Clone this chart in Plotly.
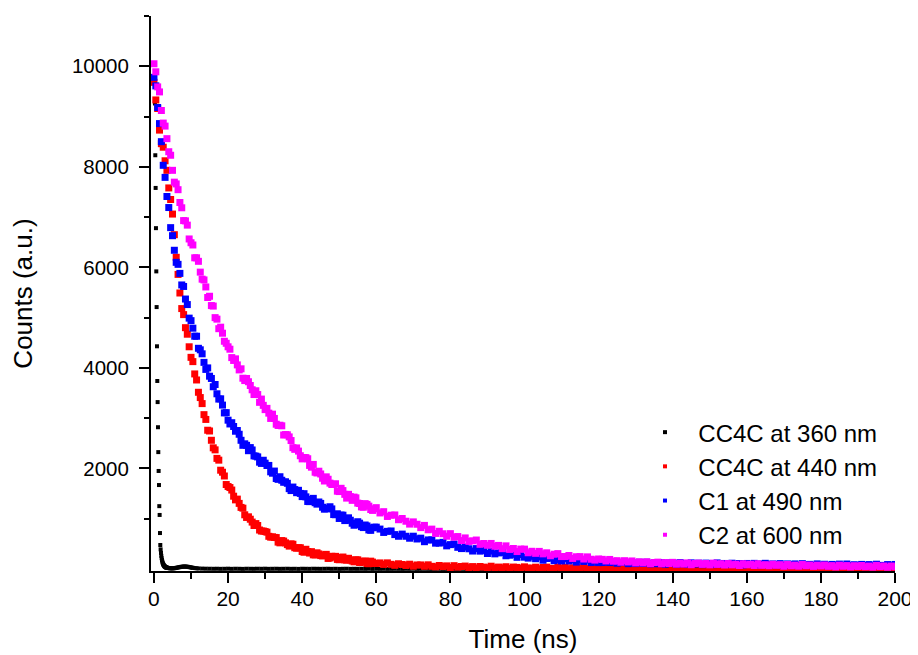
import numpy as np
import plotly.graph_objects as go

# ---- shared time grid (ns) for the three slow decays ----
time_ns = np.concatenate([np.arange(0, 60, 0.5), np.arange(60, 201, 1.0)])

# ---- C2 at 600 nm (magenta) ----
c2_600 = [
    # 0 - 19.5 ns
    10050, 9890, 9590, 9490, 9120, 8870, 8810, 8560, 8300, 8230,
    7930, 7695, 7660, 7545, 7290, 7185, 6930, 6925, 6840, 6565,
    6490, 6445, 6190, 6190, 6120, 5905, 5765, 5750, 5610, 5400,
    5425, 5240, 5230, 5000, 4970, 4780, 4810, 4690, 4530, 4490,
    # 20 - 60 ns
    4420, 4372, 4205, 4148, 4180, 4060, 3960, 3982, 3795, 3748,
    3790, 3725, 3650, 3565, 3470, 3545, 3470, 3315, 3380, 3255,
    3170, 3195, 3100, 2995, 3080, 2995, 2880, 2855, 2860, 2848,
    2665, 2673, 2670, 2628, 2555, 2413, 2380, 2408, 2345, 2253,
    2190, 2218, 2215, 2193, 2060, 2025, 2080, 1925, 1910, 1945,
    1890, 1805, 1750, 1833, 1785, 1708, 1680, 1683, 1695, 1548,
    1540, 1605, 1560, 1485, 1410, 1485, 1440, 1365, 1430, 1415,
    1310, 1303, 1235, 1228, 1300, 1285, 1250, 1183, 1165, 1198,
    1220,
    # 61 - 120 ns
    1115, 1140, 1045, 1070, 1075, 980, 1005, 950, 893, 937,
    890, 823, 867, 780, 793, 707, 750, 701, 652, 703,
    634, 645, 566, 618, 549, 560, 576, 491, 507, 472,
    508, 453, 469, 404, 460, 389, 408, 347, 396, 395,
    323, 352, 311, 350, 301, 322, 263, 294, 306, 247,
    248, 269, 210, 243, 246, 198, 241, 194, 177, 199,
    # 121 - 200 ns
    192, 160, 190, 155, 165, 135, 165, 140, 160, 120,
    143, 120, 143, 106, 129, 136, 104, 127, 109, 132,
    96, 119, 98, 121, 85, 109, 117, 91, 109, 83,
    117, 91, 105, 79, 108, 82, 96, 70, 104, 83,
    97, 70, 104, 73, 86, 65, 94, 73, 86, 55,
    89, 63, 77, 56, 90, 64, 78, 52, 76, 60,
    79, 53, 67, 41, 75, 54, 68, 42, 66, 50,
    69, 44, 58, 37, 72, 46, 60, 35, 59, 43,
]

# ---- C1 at 490 nm (blue) ----
c1_490 = [
    # 0 - 19.5 ns
    9780, 9610, 9180, 8860, 8500, 8030, 7790, 7410, 7190, 6790,
    6630, 6340, 6100, 6060, 5880, 5650, 5620, 5370, 5260, 4990,
    4940, 4790, 4630, 4630, 4390, 4360, 4280, 4110, 3970, 4000,
    3835, 3790, 3625, 3670, 3485, 3380, 3385, 3260, 3105, 3110,
    # 20 - 60 ns
    2960, 2885, 2910, 2835, 2740, 2755, 2680, 2560, 2460, 2490,
    2460, 2353, 2415, 2368, 2250, 2245, 2230, 2125, 2100, 2163,
    2105, 2058, 2060, 1933, 1905, 1948, 1800, 1783, 1835, 1765,
    1725, 1735, 1705, 1598, 1560, 1630, 1580, 1518, 1565, 1503,
    1440, 1498, 1435, 1343, 1340, 1383, 1405, 1318, 1290, 1333,
    1305, 1228, 1190, 1200, 1210, 1238, 1195, 1083, 1080, 1098,
    1005, 1073, 1070, 963, 975, 1018, 970, 910, 870, 885,
    940, 911, 842, 824, 875, 856, 777, 769, 820, 831,
    832,
    # 61 - 120 ns
    794, 727, 749, 756, 684, 651, 694, 651, 612, 652,
    597, 613, 543, 578, 579, 514, 515, 530, 460, 485,
    496, 431, 406, 436, 402, 357, 406, 355, 369, 308,
    357, 301, 320, 329, 263, 274, 291, 232, 288, 235,
    216, 252, 204, 240, 175, 210, 215, 165, 190, 160,
    205, 160, 180, 137, 178, 150, 177, 128, 155, 127,
    # 121 - 200 ns
    128, 150, 128, 149, 114, 132, 138, 106, 130, 108,
    134, 110, 135, 101, 118, 104, 125, 94, 121, 115,
    94, 127, 103, 96, 122, 98, 116, 87, 117, 104,
    88, 121, 92, 110, 89, 115, 95, 109, 81, 110,
    89, 112, 81, 100, 113, 82, 101, 83, 107, 73,
    101, 85, 101, 74, 106, 79, 92, 74, 101, 75,
    94, 66, 91, 78, 97, 70, 99, 71, 85, 65,
    91, 71, 88, 63, 95, 72, 66, 88, 67, 90,
]

# ---- CC4C at 440 nm (red) ----
cc4c_440 = [
    # 0 - 19.5 ns
    9680, 9330, 9160, 8730, 8460, 8390, 8120, 7930, 7580, 7350,
    7060, 6650, 6200, 5860, 5490, 5180, 5060, 4800, 4670, 4420,
    4210, 4125, 3880, 3760, 3515, 3410, 3290, 3070, 2975, 2760,
    2745, 2560, 2410, 2370, 2200, 2165, 1965, 1925, 1850, 1680,
    # 20 - 60 ns
    1640, 1620, 1570, 1448, 1375, 1390, 1305, 1225, 1210, 1078,
    1025, 1038, 990, 933, 865, 903, 865, 775, 755, 755,
    745, 733, 650, 633, 640, 628, 625, 535, 520, 565,
    555, 520, 485, 455, 500, 492, 423, 413, 423, 423,
    348, 333, 392, 347, 317, 345, 282, 280, 322, 300,
    267, 260, 282, 291, 210, 219, 253, 237, 251, 190,
    184, 229, 238, 182, 175, 213, 181, 160, 143, 183,
    182, 128, 134, 156, 157, 109, 105, 156, 137, 109,
    110,
    # 61 - 120 ns
    121, 91, 122, 93, 73, 104, 89, 70, 95, 56,
    80, 81, 54, 83, 53, 43, 70, 48, 62, 30,
    66, 37, 50, 58, 27, 48, 21, 50, 37, 26,
    55, 22, 38, 23, 45, 9, 38, 32, 11, 43,
    20, 14, 36, 5, 31, 37, 14, 9, 41, 15,
    30, 4, 24, 30, 8, 35, 5, 24, 11, 25,
    # 121 - 200 ns
    20, 7, 25, 11, 4, 21, 16, 1, 21, 8,
    25, 6, 15, 2, 21, 8, 18, 0, 21, 11,
    3, 23, 5, 14, 0, 18, 8, 21, 1, 15,
    -2, 17, 7, 19, 3, 11, -1, 18, 5, 21,
    0, 11, -3, 14, 18, 3, -1, 16, 5, 18,
    0, 11, -5, 16, 4, 13, -3, 18, 1, 8,
    -2, 16, 0, 10, -5, 14, 5, 18, -3, 10,
    -2, 15, 1, 8, -7, 14, -1, 16, 2, 12,
]

# ---- CC4C at 360 nm (black): fast decay, its own time points ----
black_time_early = [
    0.27, 0.36, 0.45, 0.54, 0.63, 0.72, 0.81, 0.90, 0.99, 1.08,
    1.17, 1.26, 1.35, 1.44, 1.53, 1.62, 1.71, 1.80, 1.89, 1.98,
    2.07, 2.16, 2.25, 2.34, 2.43, 2.52, 2.61, 2.70, 2.79, 2.88,
    2.97, 3.06, 3.15, 3.24, 3.33, 3.42, 3.51,
    3.7, 3.9, 4.1, 4.3, 4.5, 4.8, 5.1, 5.4, 5.7, 6.0,
    6.3, 6.6, 6.9, 7.2, 7.5, 7.8, 8.1, 8.4, 8.7, 9.0,
    9.3, 9.6, 9.9, 10.2, 10.5, 11.0, 11.5, 12.0, 13.0, 14.0, 15.0,
]
black_time = np.concatenate([np.array(black_time_early), np.arange(16, 201, 1.0)])
cc4c_360 = [
    9260, 8230, 7580, 6780, 5920, 5210, 4430, 3740, 3320, 2820,
    2325, 1950, 1670, 1250, 1075, 715, 477, 390, 320, 262,
    215, 178, 148, 124, 104, 90, 78, 68, 59, 52,
    46, 41, 37, 33, 30, 27, 25,
    22, 19, 17, 15, 14, 13, 13, 15, 18, 22,
    27, 32, 37, 41, 44, 47, 48, 48, 47, 45,
    41, 37, 32, 27, 23, 18, 14, 11, 8, 6, 5,
    4, 5, 3, 4, 6, 3, 5, 4, 2, 5, 4, 3, 5, 4, 6, 3, 4, 5, 3, 4,
    5, 3, 4, 2, 5, 4, 3, 5, 4, 3, 4, 5, 3, 4, 2, 4, 5, 3, 4, 3,
    4, 3, 5, 2, 4, 3, 4, 2, 3, 4, 3, 2, 4, 3, 5, 2, 3, 4, 3, 2,
    3, 4, 2, 3, 4, 3, 2, 4, 3, 3, 2, 4, 3, 2, 3, 4, 2, 3, 3, 2,
    3, 2, 4, 3, 2, 3, 3, 2, 4, 2, 3, 3, 2, 3, 2, 4, 3, 2, 3, 2,
    3, 2, 3, 2, 3, 3, 2, 4, 2, 3, 2, 3, 2, 3, 2, 3, 2, 2, 3, 2,
    3, 2, 3, 2, 2, 3, 2, 3, 2, 2, 3, 2, 2, 3, 2, 3, 2, 2, 3, 2,
    2, 3, 2, 2, 3, 2, 2, 3, 2, 2, 3, 2, 2, 2, 3, 2, 2, 3, 2, 2,
    2, 3, 2, 2, 2, 3, 2, 2, 2, 3, 2, 2, 3, 2, 2, 2, 3, 2, 2, 2,
    3, 2, 2, 2, 3,
]

series_names = ["CC4C at 360 nm", "CC4C at 440 nm", "C1 at 490 nm", "C2 at 600 nm"]
series_colors = ["#000000", "#FF0000", "#0000FF", "#FF00FF"]
x_tick_vals = [0, 20, 40, 60, 80, 100, 120, 140, 160, 180, 200]
x_minor_vals = [10, 30, 50, 70, 90, 110, 130, 150, 170, 190]
y_tick_vals = [2000, 4000, 6000, 8000, 10000]
y_tick_text = ["2000", "4000", "6000", "8000", "10000"]
y_minor_vals = [1000, 3000, 5000, 7000, 9000, 11000]

series = [(cc4c_360, black_time, 4), (cc4c_440, time_ns, 7), (c1_490, time_ns, 7), (c2_600, time_ns, 7)]
for (arr, t, _), name in zip(series, series_names):
    assert len(arr) == len(t), (name, len(arr), len(t))

FONT = "Liberation Sans, Arial, Helvetica, sans-serif"
NB = "\u00a0\u00a0"

fig = go.Figure()
for (arr, t, size), name, color in zip(series, series_names, series_colors):
    # data marks (legend entry drawn by a small-marker twin below)
    fig.add_trace(go.Scatter(x=t, y=arr, mode="markers", name=name, legendgroup=name,
                             showlegend=False,
                             marker=dict(symbol="square", size=size, color=color, line=dict(width=0))))
for name, color in zip(series_names, series_colors):
    fig.add_trace(go.Scatter(x=[None], y=[None], mode="markers", name=NB + name, legendgroup=name,
                             marker=dict(symbol="square", size=4, color=color, line=dict(width=0))))

# The page adds an 8 px body margin, so the figure is 8 px smaller on each axis.
fig.update_layout(
    width=910, height=647,
    margin=dict(l=143, r=23, t=8, b=84),
    paper_bgcolor="white", plot_bgcolor="white",
    font=dict(family=FONT, color="black", size=20),
    showlegend=True,
    legend=dict(x=0.664, y=0.290, xanchor="left", yanchor="top",
                bgcolor="rgba(0,0,0,0)", font=dict(size=24, family=FONT, color="black"),
                itemsizing="trace", tracegroupgap=0),
    xaxis=dict(
        range=[-0.8, 200], showgrid=False, zeroline=False,
        showline=True, linecolor="black", linewidth=2,
        tickmode="array", tickvals=x_tick_vals,
        ticks="outside", ticklen=10, tickwidth=1.5, tickcolor="black",
        ticklabelstandoff=-2,
        tickfont=dict(size=21, family=FONT, color="black"),
        minor=dict(tickmode="array", tickvals=x_minor_vals, ticks="outside",
                   ticklen=6, tickwidth=1.5, tickcolor="black", showgrid=False),
        title=dict(text="Time (ns)", font=dict(size=26, family=FONT, color="black"), standoff=21),
        automargin=False,
    ),
    yaxis=dict(
        range=[-40, 11000], showgrid=False, zeroline=False,
        showline=True, linecolor="black", linewidth=2,
        tickmode="array", tickvals=y_tick_vals, ticktext=y_tick_text,
        ticks="outside", ticklen=10, tickwidth=1.5, tickcolor="black",
        ticklabelstandoff=6,
        tickfont=dict(size=20.5, family=FONT, color="black"),
        minor=dict(tickmode="array", tickvals=y_minor_vals, ticks="outside",
                   ticklen=5, tickwidth=1.5, tickcolor="black", showgrid=False),
        title=dict(text="Counts (a.u.)", font=dict(size=26, family=FONT, color="black"), standoff=32),
        automargin=False,
    ),
)

fig.write_html("out.html")
